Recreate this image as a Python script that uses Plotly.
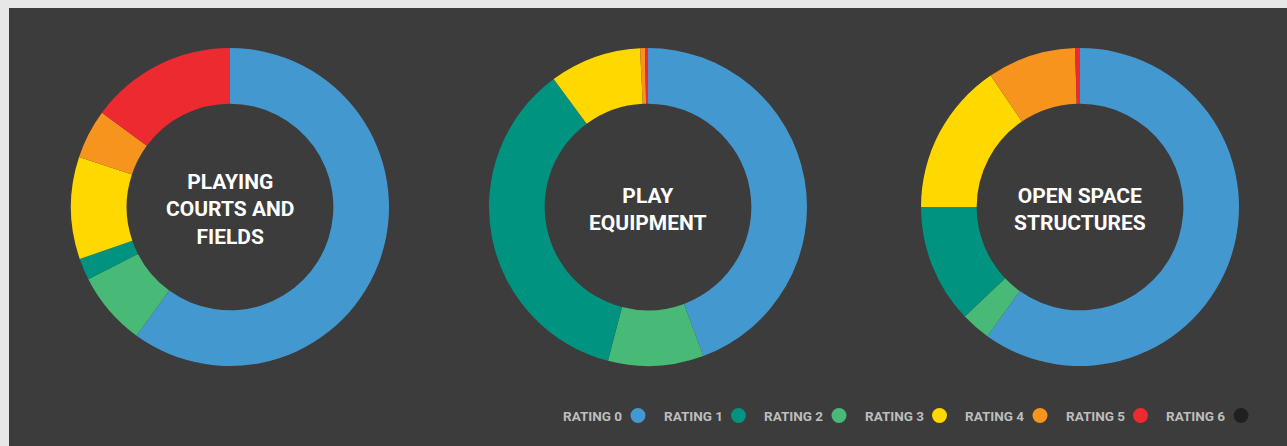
import plotly.graph_objects as go

# ---- data ----
ratings = ["RATING 0", "RATING 1", "RATING 2", "RATING 3", "RATING 4", "RATING 5", "RATING 6"]
colors = ["#4398cf", "#00937f", "#48b976", "#ffd800", "#f7941e", "#ed2a30", "#231f20"]
chart_titles = ["PLAYING<br>COURTS AND<br>FIELDS", "PLAY<br>EQUIPMENT", "OPEN SPACE<br>STRUCTURES"]
playing_courts = [60.0, 2.2, 7.5, 10.4, 5.0, 14.9, 0.0]
play_equipment = [44.3, 35.8, 9.7, 9.3, 0.5, 0.3, 0.0]
open_space = [59.9, 12.1, 3.0, 15.5, 9.0, 0.5, 0.0]
slice_order = [0, 2, 1, 3, 4, 5, 6]  # clockwise drawing order from 12 o'clock

W, H = 1287, 446
centers = [(230, 207), (648, 207), (1080, 207)]
R = 159

fig = go.Figure()
for vals, (cx, cy), title in zip([playing_courts, play_equipment, open_space], centers, chart_titles):
    fig.add_trace(go.Pie(
        labels=[ratings[i] for i in slice_order],
        values=[vals[i] for i in slice_order],
        marker=dict(colors=[colors[i] for i in slice_order], line=dict(width=0)),
        hole=0.65, sort=False, direction="clockwise", rotation=0,
        textinfo="none", hoverinfo="label+percent", showlegend=False,
        domain=dict(x=[(cx - R) / W, (cx + R) / W], y=[1 - (cy + R) / H, 1 - (cy - R) / H]),
    ))
    fig.add_annotation(x=cx / W, y=1 - (cy + 2) / H, xref="paper", yref="paper",
                       text=title, showarrow=False,
                       font=dict(family="Roboto", size=21, color="#ffffff", weight="bold"),
                       align="center", xanchor="center", yanchor="middle")

# background panel
fig.add_shape(type="rect", xref="paper", yref="paper", x0=9 / W, x1=1, y0=0, y1=1 - 8 / H,
              fillcolor="#3c3c3c", line=dict(width=0), layer="below")

# custom legend (label then dot)
x_start, step, ly = 561, 100.5, 416
for i, (name, col) in enumerate(zip(ratings, colors)):
    xs = x_start + i * step
    fig.add_annotation(x=xs / W, y=1 - ly / H, xref="paper", yref="paper", text=name,
                       showarrow=False, xanchor="left", yanchor="middle",
                       font=dict(family="Roboto", size=13.5, color="#bdbdbd", weight="bold"))
    dx = xs + 77
    fig.add_shape(type="circle", xref="paper", yref="paper",
                  x0=(dx - 7.5) / W, x1=(dx + 7.5) / W, y0=1 - (ly - 0.5 + 7.5) / H, y1=1 - (ly - 0.5 - 7.5) / H,
                  fillcolor=col, line=dict(width=0))

fig.update_layout(width=W, height=H, margin=dict(l=0, r=0, t=0, b=0),
                  paper_bgcolor="#e6e7e6", plot_bgcolor="#e6e7e6")
fig.write_html("out.html")
